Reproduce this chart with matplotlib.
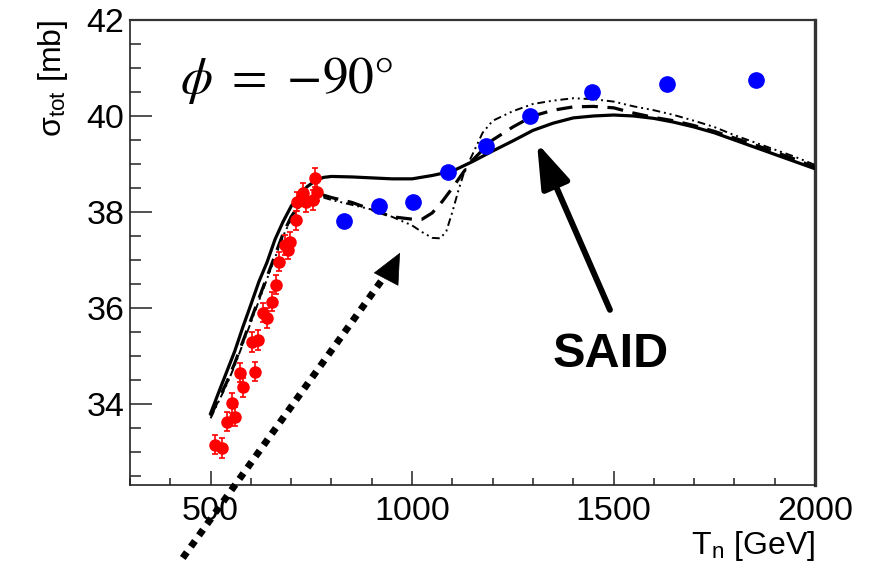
import numpy as np
import matplotlib.pyplot as plt
from matplotlib.ticker import MultipleLocator

plt.rcParams['font.family'] = ['Liberation Sans', 'DejaVu Sans']
plt.rcParams['mathtext.fontset'] = 'stix'

# model curves: total cross section vs T_n
t_solid = [500, 520, 540, 560, 580, 600, 620, 640, 660, 680, 700, 720, 740, 760, 780, 800,
           850, 900, 950, 1000, 1050, 1100, 1150, 1200, 1250, 1300, 1350, 1400, 1450, 1500,
           1550, 1600, 1650, 1700, 1750, 1800, 1850, 1900, 1950, 2000]
sig_solid = [33.8, 34.24, 34.67, 35.1, 35.6, 36.07, 36.55, 36.95, 37.43, 37.8, 38.12, 38.35, 38.53,
             38.65, 38.72, 38.74, 38.73, 38.71, 38.69, 38.69, 38.76, 38.85, 39.05, 39.27, 39.48,
             39.7, 39.85, 39.96, 40.0, 40.02, 40.0, 39.95, 39.87, 39.77, 39.65, 39.5, 39.35,
             39.2, 39.05, 38.9]

t_dash = [500, 520, 540, 560, 580, 600, 620, 640, 660, 680, 700, 720, 740, 760, 780, 800,
          850, 900, 950, 1000, 1025, 1050, 1075, 1100, 1125, 1150, 1200, 1250, 1300, 1350,
          1400, 1450, 1500, 1550, 1600, 1650, 1700, 1750, 1800, 1850, 1900, 1950, 2000]
sig_dash = [33.75, 34.1, 34.45, 34.85, 35.3, 35.75, 36.2, 36.65, 37.1, 37.55, 37.9, 38.15, 38.28,
            38.33, 38.35, 38.3, 38.2, 38.05, 37.9, 37.85, 37.85, 37.98, 38.22, 38.5, 38.8,
            39.08, 39.5, 39.77, 40.0, 40.12, 40.19, 40.2, 40.17, 40.06, 39.97, 39.9, 39.8,
            39.68, 39.54, 39.4, 39.25, 39.1, 38.93]

t_dd = [500, 520, 540, 560, 580, 600, 620, 640, 660, 680, 700, 720, 740, 760, 780, 800,
        850, 900, 950, 1000, 1025, 1050, 1070, 1085, 1100, 1115, 1130, 1150, 1175, 1200,
        1250, 1300, 1350, 1400, 1450, 1500, 1550, 1600, 1650, 1700, 1750, 1800, 1850, 1900,
        1950, 2000]
sig_dd = [33.7, 34.05, 34.4, 34.8, 35.25, 35.7, 36.15, 36.6, 37.05, 37.5, 37.85, 38.1, 38.25,
          38.3, 38.3, 38.25, 38.15, 38.05, 37.9, 37.72, 37.58, 37.46, 37.45, 37.6, 38.0, 38.45,
          38.85, 39.2, 39.65, 39.9, 40.1, 40.25, 40.32, 40.37, 40.35, 40.3, 40.2, 40.12, 40.02,
          39.9, 39.77, 39.6, 39.45, 39.3, 39.15, 38.98]

# low-energy measurements (red, with errors)
t_red = [511, 528, 540, 553, 560, 573, 580, 603, 610, 618, 630, 640, 653, 662, 670, 685,
         692, 697, 712, 714, 730, 738, 754, 759, 764]
sig_red = [33.15, 33.08, 33.63, 34.02, 33.73, 34.65, 34.35, 35.29, 34.67, 35.33, 35.9, 35.79,
           36.13, 36.48, 36.96, 37.31, 37.21, 37.38, 37.83, 38.21, 38.4, 38.2, 38.25, 38.71, 38.42]
err_red = [0.2] * len(t_red)

# high-energy measurements (blue)
t_blue = [831, 918, 1002, 1089, 1183, 1293, 1446, 1632, 1853]
sig_blue = [37.81, 38.12, 38.21, 38.83, 39.37, 40.0, 40.5, 40.67, 40.75]

fig = plt.figure(figsize=(8.69, 5.62), dpi=100)
ax = fig.add_axes([0.1496, 0.137, 0.7883, 0.8274])

ax.plot(t_solid, sig_solid, color='black', lw=2.3, zorder=3)
ax.plot(t_dash, sig_dash, color='black', lw=2.3, ls=(0, (5, 3)), zorder=3)
ax.plot(t_dd, sig_dd, color='black', lw=1.4, ls=(0, (4, 2, 1, 2, 1, 2)), zorder=3)

ax.errorbar(t_red, sig_red, yerr=err_red, fmt='o', color='red', ms=8, elinewidth=1.2,
            capsize=2.5, capthick=1.2, zorder=4)
ax.plot(t_blue, sig_blue, 'o', color='blue', ms=11, zorder=4)

ax.set_xlim(300, 2000)
ax.set_ylim(32.31, 42)
ax.xaxis.set_major_locator(MultipleLocator(500))
ax.xaxis.set_minor_locator(MultipleLocator(100))
ax.yaxis.set_major_locator(MultipleLocator(2))
ax.yaxis.set_minor_locator(MultipleLocator(0.5))
ax.tick_params(axis='both', which='both', direction='in', top=False, right=False,
               labelsize=24.5, color='#222222', width=1.1)
ax.tick_params(axis='x', which='major', length=10, pad=8)
ax.tick_params(axis='x', which='minor', length=5)
ax.tick_params(axis='y', which='major', length=16, pad=4)
ax.tick_params(axis='y', which='minor', length=8)

for side in ['left', 'bottom']:
    ax.spines[side].set_linewidth(1.2)
    ax.spines[side].set_color('#222222')
ax.spines['top'].set_linewidth(1.6)
ax.spines['top'].set_color('#333333')
ax.spines['right'].set_linewidth(2.4)
ax.spines['right'].set_color('#333333')

ax.set_xlabel(r'T$_{\mathregular{n}}$ [GeV]', fontsize=23, loc='right', labelpad=1)
ax.set_ylabel(r'σ$_{\mathregular{tot}}$ [mb]', fontsize=23, loc='top', labelpad=12)

ax.text(0.073, 0.87, r'$\phi\ =\ {-}90°$', transform=ax.transAxes, fontsize=37,
        ha='left', va='center')
ax.text(1493, 35.02, 'SAID', fontsize=35, fontweight='bold', ha='center', va='center')

# arrow pointing to the SAID curve
ax.annotate('', xy=(1310, 39.44), xytext=(1491, 35.96),
            arrowprops=dict(arrowstyle='-|>,head_length=1.5,head_width=0.5', color='black',
                            lw=4.3, shrinkA=0, shrinkB=0, mutation_scale=18),
            annotation_clip=False, zorder=5)

# dotted arrow from below the frame
ax.plot([431, 960], [30.79, 36.99], color='black', lw=5, ls=(0, (1, 1)),
        solid_capstyle='butt', dash_capstyle='butt', clip_on=False, zorder=5)
ax.annotate('', xy=(970, 37.15), xytext=(950, 36.83),
            arrowprops=dict(arrowstyle='-|>,head_length=1.3,head_width=0.6', color='black',
                            lw=0.5, shrinkA=0, shrinkB=0, mutation_scale=16),
            annotation_clip=False, zorder=5)

fig.savefig('out.png', dpi=100)
